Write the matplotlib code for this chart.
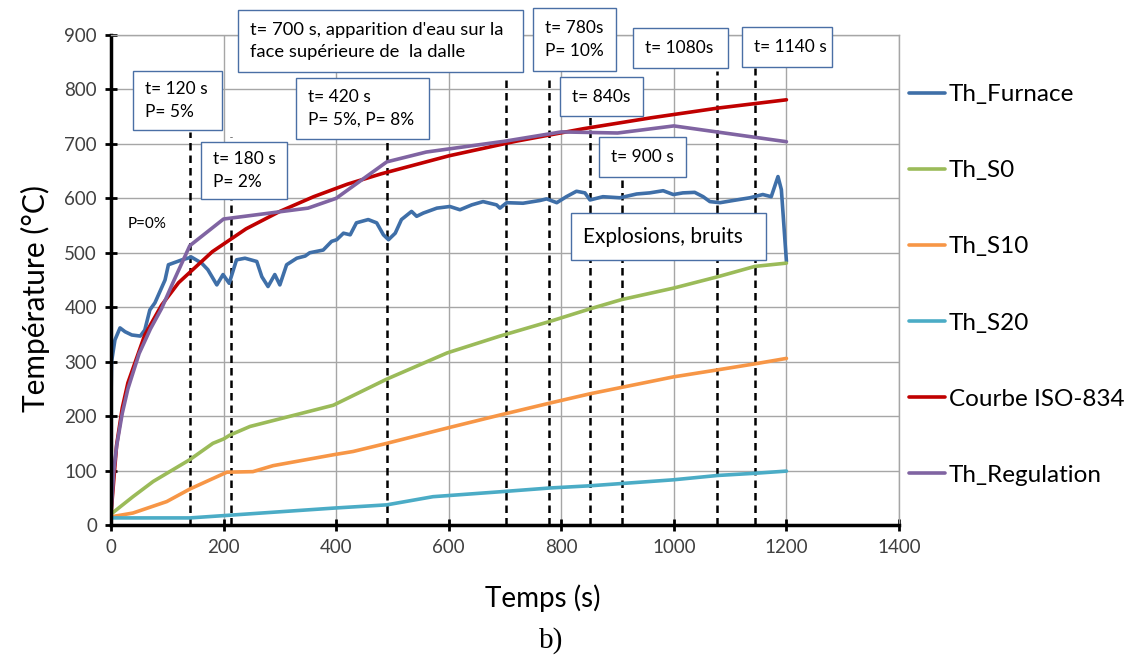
import matplotlib
matplotlib.use("Agg")
import matplotlib.pyplot as plt
from matplotlib.patches import Rectangle

plt.rcParams['font.family'] = ['Lato', 'DejaVu Sans']

W, H = 1128, 660
OUTPUT = "out.png"

# --- data (time in s, temperature in °C) ---
t_furnace = [0, 1, 7, 16, 25, 37, 52, 60, 69, 78, 87, 96, 102, 110, 126, 143,
             161, 172, 188, 199, 210, 223, 238, 259, 268, 279, 291, 300, 312,
             330, 345, 353, 377, 392, 401, 413, 425, 436, 457, 472, 484, 493,
             505, 516, 534, 543, 555, 579, 602, 620, 641, 661, 685, 691, 703,
             732, 762, 774, 792, 809, 827, 842, 851, 874, 904, 934, 957, 981,
             999, 1016, 1037, 1052, 1064, 1082, 1111, 1135, 1158, 1173, 1185,
             1191, 1200]
T_furnace = [230, 300, 340, 362, 355, 349, 347, 358, 395, 408, 429, 450, 478,
             481, 487, 492, 481, 469, 441, 460, 444, 487, 490, 484, 456, 438,
             460, 441, 478, 490, 494, 500, 505, 521, 524, 536, 533, 555, 561,
             555, 533, 524, 536, 561, 576, 567, 573, 582, 585, 579, 588, 594,
             588, 582, 592, 591, 596, 599, 592, 603, 613, 610, 597, 603, 601,
             608, 610, 614, 607, 610, 611, 603, 594, 592, 597, 601, 607, 603,
             640, 616, 484]

t_s0 = [0, 39, 75, 140, 181, 200, 211, 247, 395, 490, 597, 691, 780, 851,
        907, 999, 1078, 1144, 1200]
T_s0 = [20, 52, 80, 120, 150, 158, 165, 181, 220, 268, 316, 347, 374, 397,
        414, 435, 456, 475, 481]

t_s10 = [0, 39, 99, 140, 176, 206, 252, 288, 395, 430, 490, 597, 691, 780,
         851, 999, 1078, 1144, 1200]
T_s10 = [15, 22, 43, 66, 83, 97, 98, 109, 129, 135, 150, 178, 202, 224, 241,
         272, 285, 296, 306]

t_s20 = [0, 140, 211, 395, 490, 572, 691, 780, 851, 999, 1078, 1144, 1200]
T_s20 = [13, 13, 18, 31, 37, 52, 61, 68, 72, 83, 91, 95, 99]

t_iso = [0, 10, 20, 30, 60, 90, 120, 180, 240, 300, 360, 420, 480, 600, 720,
         840, 960, 1080, 1200]
T_iso = [20, 147, 215, 261, 349, 404, 445, 502, 544, 576, 603, 626, 645, 678,
         705, 728, 748, 766, 781]

t_reg = [0, 5, 10, 20, 30, 50, 70, 90, 110, 140, 200, 350, 400, 490, 560, 700,
         800, 900, 1000, 1200]
T_reg = [20, 100, 145, 205, 250, 315, 360, 398, 445, 513, 562, 582, 600, 667,
         685, 705, 722, 720, 733, 704]

series_names = ["Th_Furnace", "Th_S0", "Th_S10", "Th_S20", "Courbe ISO-834",
                "Th_Regulation"]

# dashed event markers
event_t = [140, 213, 490, 701, 778, 851, 908, 1076, 1144]
event_top = [722, 713, 711, 822, 823, 750, 640, 833, 840]

notes = ["t= 120 s\nP= 5%",
         "t= 180 s\nP= 2%",
         "t= 420 s\nP= 5%, P= 8%",
         "t= 700 s, apparition d'eau sur la\nface supérieure de  la dalle",
         "t= 780s\nP= 10%",
         "t= 840s",
         "t= 900 s",
         "t= 1080s",
         "t= 1140 s",
         "Explosions, bruits"]


def main():
    fig = plt.figure(figsize=(W / 100, H / 100), dpi=100)
    ax = fig.add_axes([111 / W, 1 - 525 / H, (899 - 111) / W, (525 - 35) / H])

    colors = ["#3f6fa8", "#9bbb59", "#f79646", "#4bacc6", "#c00000", "#8064a2"]
    data = [(t_furnace, T_furnace), (t_s0, T_s0), (t_s10, T_s10),
            (t_s20, T_s20), (t_iso, T_iso), (t_reg, T_reg)]
    for (t, T), c, name in zip(data, colors, series_names):
        ax.plot(t, T, color=c, lw=2.6, label=name, solid_capstyle="round")

    ax.vlines(event_t, 0, event_top, colors="black", linestyles=(0, (3, 2)),
              lw=1.8, zorder=1)

    ax.set_xlim(0, 1400)
    ax.set_ylim(0, 900)
    ax.set_xticks(range(0, 1401, 200))
    ax.set_yticks(range(0, 901, 100))
    ax.grid(True, color="#a6a6a6", lw=1)
    ax.set_axisbelow(True)
    for side in ("top", "right"):
        ax.spines[side].set_color("#a6a6a6")
        ax.spines[side].set_linewidth(1)
    for side in ("left", "bottom"):
        ax.spines[side].set_color("black")
        ax.spines[side].set_linewidth(2.5)
    ax.tick_params(direction="inout", length=8, width=2, labelsize=13.5,
                   labelcolor="#404040", pad=6)

    fig.text(35 / W, 1 - 299 / H, "Température (°C)", fontsize=21.5,
             rotation=90, ha="center", va="center")
    fig.text(543 / W, 1 - 598 / H, "Temps (s)", fontsize=20, ha="center",
             va="center")

    ax.text(0.0216, 0.614, "P=0%", transform=ax.transAxes, fontsize=11,
            va="center")

    fig.legend(loc="upper left", bbox_to_anchor=(909 / W, 1 - 84 / H),
               frameon=False, fontsize=17.5, handlelength=1.5,
               handletextpad=0.15, labelspacing=2.27, borderaxespad=0,
               borderpad=0)

    # annotation boxes, pixel positions (x0, y0, x1, y1), font size
    boxes = [(133, 71, 222, 130, 12.5), (201, 142, 287, 199, 12.5),
             (296, 78, 429, 139, 12.5), (238, 10, 523, 72, 13.2),
             (533, 8, 616, 71, 12.5), (560, 77, 643, 116, 12.5),
             (599, 137, 686, 177, 12.5), (633, 28, 728, 68, 12.5),
             (742, 27, 832, 67, 12.5), (571, 213, 766, 260, 15)]
    for (x0, y0, x1, y1, fs), txt in zip(boxes, notes):
        fig.add_artist(Rectangle((x0 / W, 1 - y1 / H), (x1 - x0) / W,
                                 (y1 - y0) / H, transform=fig.transFigure,
                                 facecolor="white", edgecolor="#4a6fa5",
                                 lw=1, zorder=5))
        fig.text((x0 + 12) / W, 1 - (y0 + y1) / 2 / H, txt, fontsize=fs,
                 ha="left", va="center", linespacing=1.5, zorder=6)

    fig.text(551 / W, 1 - 641 / H, "b)", fontsize=21, ha="center",
             va="center", family="Liberation Serif")

    fig.savefig(OUTPUT, dpi=100)
    plt.close(fig)


if __name__ == "__main__":
    main()
